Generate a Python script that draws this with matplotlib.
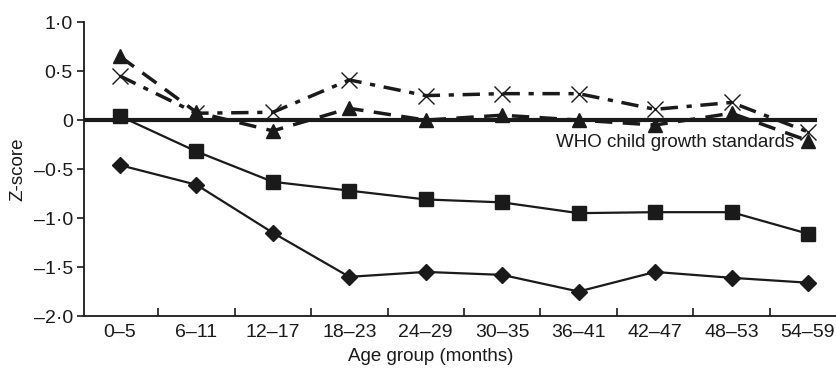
import numpy as np
import matplotlib.pyplot as plt

plt.rcParams['font.family'] = ['Liberation Sans', 'DejaVu Sans']

ages = ['0–5', '6–11', '12–17', '18–23', '24–29', '30–35', '36–41', '42–47', '48–53', '54–59']
diamond = [-0.46, -0.66, -1.15, -1.60, -1.55, -1.58, -1.75, -1.55, -1.61, -1.66]
square = [0.04, -0.32, -0.63, -0.72, -0.81, -0.84, -0.95, -0.94, -0.94, -1.16]
triangle = [0.65, 0.08, -0.11, 0.12, 0.0, 0.05, 0.0, -0.05, 0.07, -0.21]
cross = [0.45, 0.07, 0.08, 0.41, 0.25, 0.27, 0.27, 0.11, 0.18, -0.12]
yticks = [1.0, 0.5, 0, -0.5, -1.0, -1.5, -2.0]
ylabels = ['1·0', '0·5', '0', '–0·5', '–1·0', '–1·5', '–2·0']

x = np.arange(len(ages))
fs = 13.5
ink = '#1a1a1a'

fig = plt.figure(figsize=(8.37, 3.69), dpi=100)
ax = fig.add_axes([0.1004, 0.1436, 0.8996, 0.7964])

ax.plot([-0.47, 9.09], [0, 0], color=ink, lw=3, zorder=2)
ax.plot(x, diamond, color=ink, lw=1.6, marker='D', ms=8, zorder=3)
ax.plot(x, square, color=ink, lw=1.6, marker='s', ms=10, zorder=3)
ax.plot(x, triangle, color=ink, lw=2.5, ls=(0, (5, 3)), marker='^', ms=10, zorder=3)
ax.plot(x, cross, color=ink, lw=2.5, ls=(0, (5, 2.5, 1.5, 2.5)), marker='x', ms=11,
        mew=1.0, zorder=3)

ax.text(8.82, -0.14, 'WHO child growth standards', ha='right', va='top', fontsize=fs,
        color=ink)

ax.set_xlim(-0.47, 9.38)
ax.set_ylim(-2.0, 1.0)
ax.set_xticks(x)
ax.set_xticklabels(ages, fontsize=14, color=ink)
ax.set_xticks(x[:-1] + 0.5, minor=True)
ax.tick_params(axis='x', which='major', length=0, pad=6)
ax.tick_params(axis='x', which='minor', direction='in', length=6, width=1.2, color=ink)
ax.set_yticks(yticks)
ax.set_yticklabels(ylabels, fontsize=14, color=ink)
ax.tick_params(axis='y', direction='out', length=5, width=1.2, color=ink, pad=3)

for s in ['top', 'right']:
    ax.spines[s].set_visible(False)
for s in ['left', 'bottom']:
    ax.spines[s].set_linewidth(1.3)
    ax.spines[s].set_color(ink)

ax.set_ylabel('Z-score', fontsize=fs, color=ink)
ax.set_xlabel('Age group (months)', fontsize=fs, color=ink)
ax.yaxis.set_label_coords(-0.077, 0.5)
ax.xaxis.set_label_coords(0.46, -0.11)

fig.savefig('out.png', dpi=100)
